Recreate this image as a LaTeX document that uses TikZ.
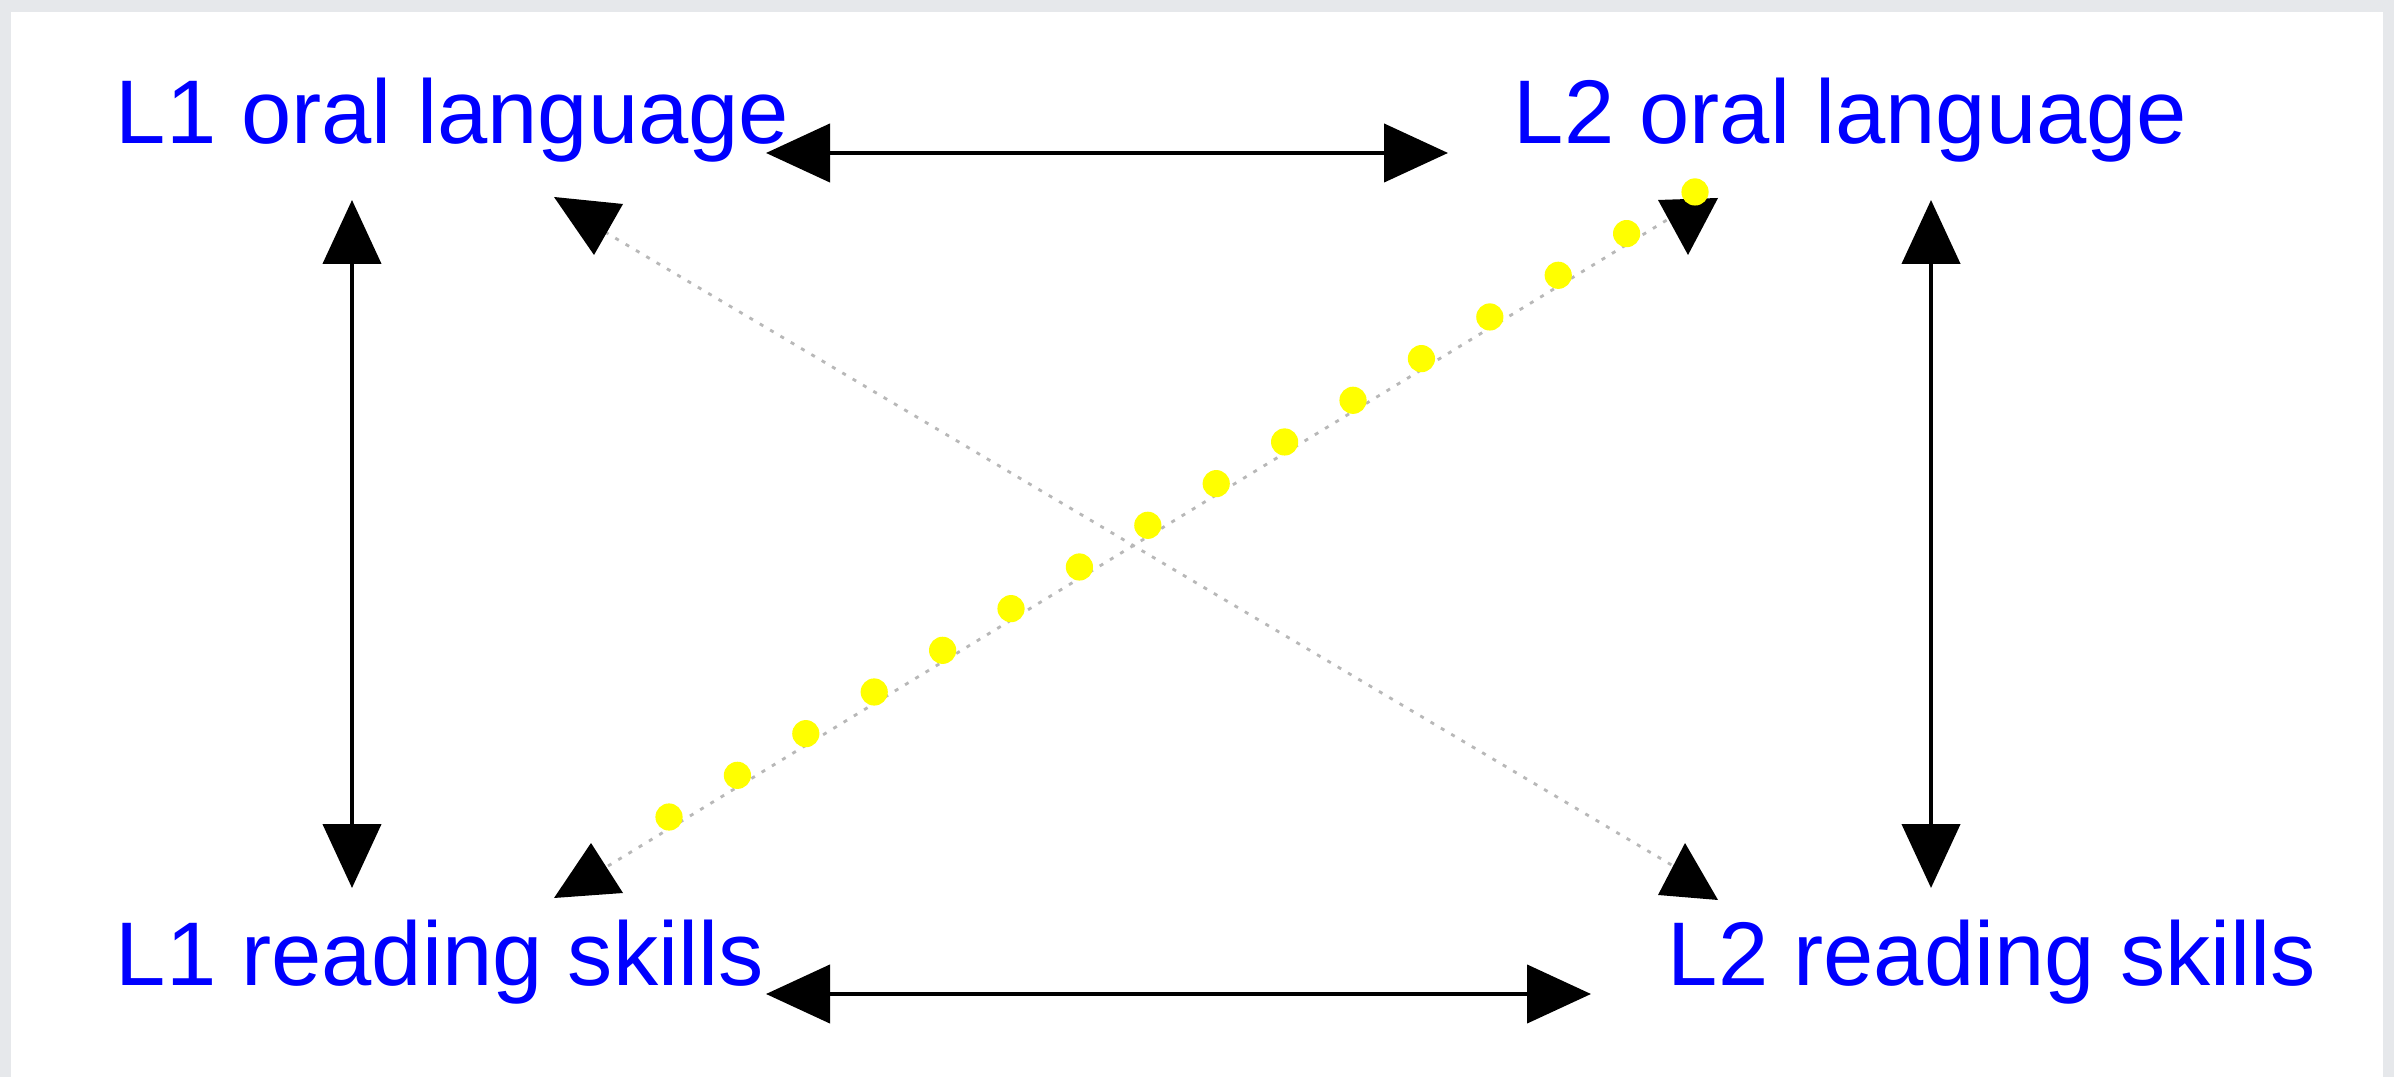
\documentclass[tikz,border=0pt]{standalone}
\usepackage{fontspec}
\setmainfont{Liberation Sans}
\usetikzlibrary{arrows.meta}
\definecolor{bggray}{HTML}{E6E8EB}
\definecolor{txtblue}{HTML}{0000FF}
\definecolor{dotgray}{HTML}{B8B8B8}
\definecolor{dotyellow}{HTML}{FFFF00}
\begin{document}
\begin{tikzpicture}[x=0.25pt,y=-0.25pt,
  label/.style={anchor=base west,inner sep=0pt,text=txtblue,font=\fontsize{22.6pt}{27pt}\selectfont},
  solidlink/.style={line width=1.1pt,black,{Triangle[length=16pt,width=14.5pt]}-{Triangle[length=16pt,width=14.5pt]}},
  dotlink/.style={line width=0.7pt,dotgray,dash pattern=on 1pt off 2pt},
  headtri/.style={fill=black},
  ydot/.style={fill=dotyellow}]
\useasboundingbox (0,0) rectangle (2394,1077);
\fill[bggray] (0,0) rectangle (2394,1077);
\fill[white] (11,12) rectangle (2383,1077);
% labels
\node[label] (l1o) at (115,144) {L1 oral language};
\node[label] (l2o) at (1513,144) {L2 oral language};
\node[label] (l1r) at (115,985) {L1 reading skills};
\node[label] (l2r) at (1667,985) {L2 reading skills};
% connector ends
\coordinate (tA) at (766,153);
\coordinate (tB) at (1448,153);
\coordinate (bA) at (766,994);
\coordinate (bB) at (1591,994);
\coordinate (lA) at (352,200);
\coordinate (lB) at (352,888);
\coordinate (rA) at (1931,200);
\coordinate (rB) at (1931,888);
\coordinate (d1A) at (605,232);
\coordinate (d1B) at (1680,870);
\coordinate (d2A) at (608,866);
\coordinate (d2B) at (1680,212);
% solid arrows
\draw[solidlink] (tA) -- (tB);
\draw[solidlink] (bA) -- (bB);
\draw[solidlink] (lA) -- (lB);
\draw[solidlink] (rA) -- (rB);
% dotted diagonals
\draw[dotlink] (d1A) -- (d1B);
\draw[dotlink] (d2A) -- (d2B);
% diagonal heads
\fill[headtri] (554,197) -- (623,204) -- (594,255) -- cycle;
\fill[headtri] (1685,843) -- (1658,895) -- (1718,900) -- cycle;
\fill[headtri] (591,843) -- (554,898) -- (623,893) -- cycle;
\fill[headtri] (1658,200) -- (1718,198) -- (1688,255) -- cycle;
% yellow dots
\foreach \i in {0,...,15}{
  \fill[ydot] ({669+68.4*\i},{817-41.67*\i}) circle[radius=3.4pt];
}
\end{tikzpicture}
\end{document}
